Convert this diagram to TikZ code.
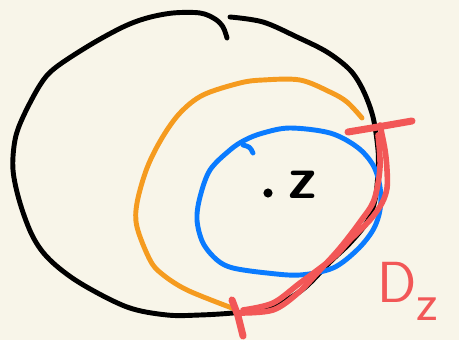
\documentclass[tikz,border=0pt]{standalone}
\usepackage{xcolor}
\usepackage{tikz}
\usepackage{amsmath}
\definecolor{carta}{HTML}{F8F5E9}
\definecolor{arancio}{HTML}{F59B1F}
\definecolor{azzurro}{HTML}{0A7BFF}
\definecolor{rosso}{HTML}{F25757}

\begin{document}
\begin{tikzpicture}[x=0.02cm, y=-0.02cm,
            every node/.style={inner sep=0pt},
            tratto/.style={line width=2.8pt, line cap=round, line join=round}]
        % Sfondo (fissa anche i margini)
        \fill[carta] (0,0) rectangle (459,340);
        \useasboundingbox (0,0) rectangle (459,340);

        % Cerchio esterno (nero, aperto in alto)
        \draw[tratto, black] plot[smooth, tension=0.55] coordinates {
                (230,17) (263,22) (297,37) (327,52) (350,70) (363,90)
                (373,117) (378,150) (378,172) (375,200) (367,222) (350,243)
                (330,262) (302,290) (267,309) (233,313) (200,315) (167,315)
                (127,307) (80,283) (50,260) (33,237) (20,203) (13,170)
                (15,140) (23,117) (40,85) (55,68) (90,45) (123,27) (147,18)
                (173,13) (200,13) (215,19) (223,27) (227,38)};

        % Cerchio intermedio (arancio)
        \draw[tratto, arancio] plot[smooth, tension=0.55] coordinates {
                (362,118) (347,102) (330,92) (300,80) (263,80) (240,83)
                (203,95) (180,113) (162,138) (147,168) (137,203) (137,227)
                (150,260) (162,274) (187,290) (232,308)};

        % Cerchio interno (blu)
        \draw[tratto, azzurro] plot[smooth cycle, tension=0.55] coordinates {
                (263,133) (290,128) (330,133) (357,147) (373,165) (380,187)
                (380,210) (373,230) (357,250) (333,268) (300,275) (267,273)
                (233,268) (217,260) (203,243) (197,220) (200,197) (210,170)
                (230,150) (245,140)};
        \draw[tratto, azzurro] (253,153) .. controls (250,147) .. (243,145);

        % Centro z
        \fill[black] (268,193) circle (2.6pt);
        \node[font=\fontsize{34}{34}\selectfont\sffamily\bfseries, anchor=base west] (zeta) at (288,199) {z};

        % Arco D_z (rosso, doppio tratto)
        \draw[tratto, rosso, line width=3.2pt] plot[smooth, tension=0.55] coordinates {
                (380,125) (385,150) (387,170) (387,188) (382,203) (370,220)
                (350,240) (333,258) (300,283) (273,303) (243,310)};
        \draw[tratto, rosso, line width=3.2pt] plot[smooth, tension=0.55] coordinates {
                (378,135) (380,167) (374,200) (360,222) (340,248) (320,270)
                (298,293) (273,310) (240,313)};
        \draw[tratto, rosso, line width=4pt] (348,132) -- (372,128) -- (412,121);
        \draw[tratto, rosso, line width=4pt] (232,300) -- (238,316) -- (243,336);

        % Etichetta
        \node[rosso, anchor=base west, font=\fontsize{33}{33}\selectfont\sffamily] (etichetta) at (377,303)
                {D\raisebox{-0.3em}{\fontsize{30}{30}\selectfont z}};
    \end{tikzpicture}
\end{document}
